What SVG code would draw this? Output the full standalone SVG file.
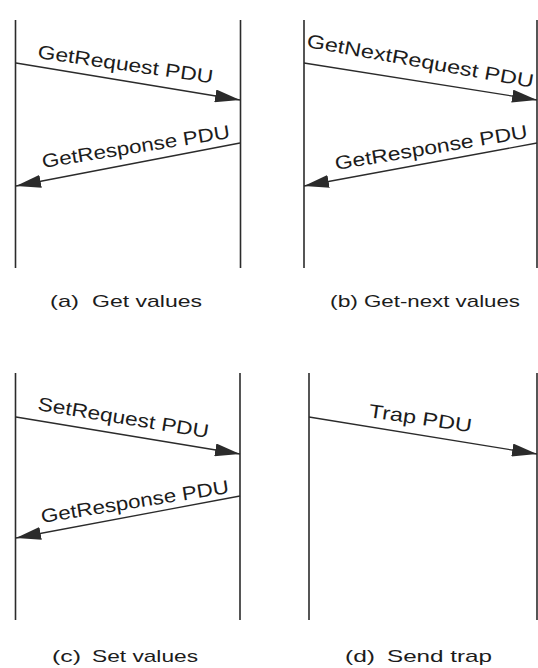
<svg xmlns="http://www.w3.org/2000/svg" width="538" height="668" viewBox="0 0 538 668">
<style>
.life{stroke:#2b2b2b;stroke-width:1.6;fill:none}
.msg{stroke:#2b2b2b;stroke-width:1.3;fill:none;marker-end:url(#ah)}
.lbl{font-family:"Liberation Sans",Arial,sans-serif;font-size:19px;fill:#1c1c1c}
.cap{font-family:"Liberation Sans",Arial,sans-serif;font-size:17px;fill:#1c1c1c}
</style>
<defs>
<marker id="ah" markerUnits="userSpaceOnUse" markerWidth="25" markerHeight="13" viewBox="0 0 25 13" refX="25" refY="6.5" orient="auto">
<path d="M0,0 L25,6.5 L0,13 z" fill="#2b2b2b"/>
</marker>
</defs>
<rect width="538" height="668" fill="#ffffff"/>

<g id="panel-a">
<g id="a-left"><line class="life" x1="15.5" y1="20" x2="15.5" y2="268"/></g>
<g id="a-right"><line class="life" x1="240.5" y1="20" x2="240.5" y2="268"/></g>
<text class="cap" y="307"><tspan x="50" textLength="29" lengthAdjust="spacingAndGlyphs">(a)</tspan><tspan x="92" textLength="110" lengthAdjust="spacingAndGlyphs">Get values</tspan></text>
</g>

<g id="panel-b">
<g id="b-left"><line class="life" x1="304" y1="20" x2="304" y2="268"/></g>
<g id="b-right"><line class="life" x1="537" y1="20" x2="537" y2="268"/></g>
<text class="cap" y="307"><tspan x="330" textLength="28" lengthAdjust="spacingAndGlyphs">(b)</tspan><tspan x="364" textLength="156" lengthAdjust="spacingAndGlyphs">Get-next values</tspan></text>
</g>

<g id="panel-c">
<g id="c-left"><line class="life" x1="15.5" y1="373" x2="15.5" y2="620"/></g>
<g id="c-right"><line class="life" x1="240" y1="373" x2="240" y2="620"/></g>
<text class="cap" y="662"><tspan x="52" textLength="29" lengthAdjust="spacingAndGlyphs">(c)</tspan><tspan x="92" textLength="106" lengthAdjust="spacingAndGlyphs">Set values</tspan></text>
</g>

<g id="panel-d">
<g id="d-left"><line class="life" x1="309" y1="373" x2="309" y2="620"/></g>
<g id="d-right"><line class="life" x1="537" y1="373" x2="537" y2="620"/></g>
<text class="cap" y="662"><tspan x="345" textLength="30" lengthAdjust="spacingAndGlyphs">(d)</tspan><tspan x="387" textLength="105" lengthAdjust="spacingAndGlyphs">Send trap</tspan></text>
</g>

<g id="connectors">
<line class="msg" x1="16" y1="63" x2="240" y2="100"/>
<line class="msg" x1="240" y1="143" x2="16" y2="186"/>
<line class="msg" x1="304" y1="63" x2="537" y2="100"/>
<line class="msg" x1="537" y1="143" x2="304" y2="186"/>
<line class="msg" x1="16" y1="417" x2="240" y2="454"/>
<line class="msg" x1="240" y1="496" x2="16" y2="538"/>
<line class="msg" x1="309" y1="417" x2="537" y2="454"/>
<text class="lbl" transform="translate(37,58) rotate(8.2)" textLength="177" lengthAdjust="spacingAndGlyphs">GetRequest PDU</text>
<text class="lbl" transform="translate(43,168) rotate(-9.1)" textLength="190" lengthAdjust="spacingAndGlyphs">GetResponse PDU</text>
<text class="lbl" transform="translate(306,47) rotate(10.2)" textLength="230" lengthAdjust="spacingAndGlyphs">GetNextRequest PDU</text>
<text class="lbl" transform="translate(336,170) rotate(-9.5)" textLength="195" lengthAdjust="spacingAndGlyphs">GetResponse PDU</text>
<text class="lbl" transform="translate(37,410) rotate(9.3)" textLength="173" lengthAdjust="spacingAndGlyphs">SetRequest PDU</text>
<text class="lbl" transform="translate(42,523) rotate(-9.1)" textLength="190" lengthAdjust="spacingAndGlyphs">GetResponse PDU</text>
<text class="lbl" transform="translate(368,417) rotate(8.4)" textLength="104" lengthAdjust="spacingAndGlyphs">Trap PDU</text>
</g>
</svg>
